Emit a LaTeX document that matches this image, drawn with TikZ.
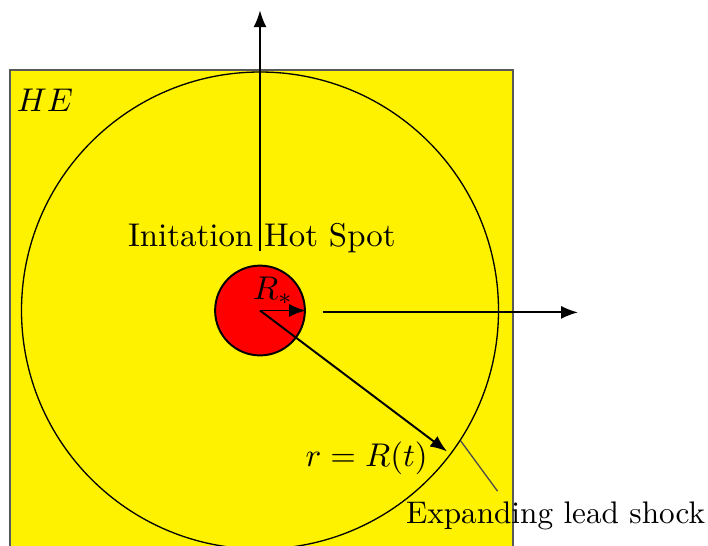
\documentclass[tikz,border=0pt]{standalone}
\usepackage{amsmath}
\usepackage{xcolor}
\usetikzlibrary{positioning,arrows.meta}

\begin{document}
\begin{tikzpicture}[
    he/.style={fill=yellow, draw=black!65, semithick},
    shockfront/.style={circle, draw=black, thin, minimum size=5.1cm, inner sep=0pt},
    hotspot/.style={circle, fill=red, draw=black, semithick, minimum size=0.96cm, inner sep=0pt},
    vec/.style={-{Latex[length=1.8mm,width=1.4mm]}, semithick},
    pointer/.style={draw=black!70, thin},
]
\useasboundingbox (-2.78,-2.51) rectangle (4.79,3.32);
\clip (-2.78,-2.51) rectangle (4.79,3.32);

% High explosive block (bottom runs off the page)
\fill[he] (-2.675,-3.0) rectangle (2.70,2.57);
\node (he) at (-2.30,2.25) {$HE$};

% Lead shock and initiation hot spot
\coordinate (c) at (0,0);
\node[shockfront] (shock) at (c) {};
\node[hotspot] (spot) at (c) {};
\node (rstar) at (0.14,0.21) {$R_*$};
\node (spotlabel) at (0.02,0.77) {Initation Hot Spot};

% Radii
\draw[vec] (c) -- (spot.east);
\draw[vec, shorten >=1.5pt] (c) -- (shock.-37.5);
\node (rt) at (1.14,-1.58) {$r = R(t)$};

% Propagation directions
\coordinate (upstart) at (0,0.64);
\coordinate (uptip) at (0,3.21);
\draw[vec] (upstart) -- (uptip);
\coordinate (rightstart) at (0.67,-0.02);
\coordinate (righttip) at (3.40,-0.02);
\draw[vec] (rightstart) -- (righttip);

% Lead shock label
\node[scale=0.95] (lead) at (3.16,-2.20) {Expanding lead shock};
\draw[pointer] (shock.-33) -- ([xshift=-0.62cm]lead.north);
\end{tikzpicture}
\end{document}
